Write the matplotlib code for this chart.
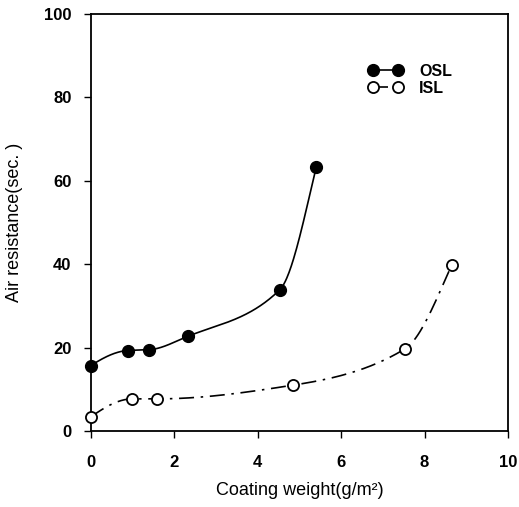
import numpy as np
import matplotlib
matplotlib.use('Agg')
import matplotlib.pyplot as plt
from matplotlib.lines import Line2D

plt.rcParams['font.family'] = ['Liberation Sans', 'DejaVu Sans']

# coating weight (g/m2) vs air resistance (sec.)
osl_x = [0.0, 0.88, 1.40, 2.32, 4.53, 5.40]
osl_y = [15.7, 19.3, 19.5, 22.7, 33.9, 63.2]
isl_x = [0.0, 0.99, 1.59, 4.85, 7.53, 8.65]
isl_y = [3.4, 7.7, 7.7, 11.0, 19.7, 39.8]

x_ticks = [0, 2, 4, 6, 8, 10]
y_ticks = [0, 20, 40, 60, 80, 100]


def pchip(x, y, n=300):
    """Monotone cubic curve through the points, for the smooth line."""
    x = np.asarray(x, float)
    y = np.asarray(y, float)
    h = np.diff(x)
    d = np.diff(y) / h
    m = np.zeros_like(y)
    for k in range(1, len(x) - 1):
        if d[k - 1] * d[k] > 0:
            w1 = 2 * h[k] + h[k - 1]
            w2 = h[k] + 2 * h[k - 1]
            m[k] = (w1 + w2) / (w1 / d[k - 1] + w2 / d[k])
    m[0] = max(((2 * h[0] + h[1]) * d[0] - h[0] * d[1]) / (h[0] + h[1]), 0)
    m[-1] = max(((2 * h[-1] + h[-2]) * d[-1] - h[-1] * d[-2]) / (h[-1] + h[-2]), 0)
    xs = np.linspace(x[0], x[-1], n)
    idx = np.clip(np.searchsorted(x, xs) - 1, 0, len(x) - 2)
    t = (xs - x[idx]) / h[idx]
    h00 = 2 * t**3 - 3 * t**2 + 1
    h10 = t**3 - 2 * t**2 + t
    h01 = -2 * t**3 + 3 * t**2
    h11 = t**3 - t**2
    ys = h00 * y[idx] + h10 * h[idx] * m[idx] + h01 * y[idx + 1] + h11 * h[idx] * m[idx + 1]
    return xs, ys


fig = plt.figure(figsize=(5.19, 5.07), dpi=100)
ax = fig.add_axes([0.1753, 0.1499, 0.8035, 0.8225])

dashdot = (0, (9, 4, 1.5, 4))

xs, ys = pchip(osl_x, osl_y)
ax.plot(xs, ys, color='black', lw=1.2, zorder=2)
ax.plot(osl_x, osl_y, 'o', color='black', ms=8.5, zorder=3, clip_on=False)

xs, ys = pchip(isl_x, isl_y)
ax.plot(xs, ys, color='black', lw=1.2, linestyle=dashdot, zorder=2)
ax.plot(isl_x, isl_y, 'o', mfc='white', mec='black', mew=1.3, ms=8,
        zorder=3, clip_on=False)

ax.set_xlim(0, 10)
ax.set_ylim(0, 100)
ax.set_xticks(x_ticks)
ax.set_yticks(y_ticks)
ax.tick_params(direction='out', length=5, width=1, labelsize=12)
ax.tick_params(axis='x', pad=12)
ax.tick_params(axis='y', pad=9)
for lab in ax.get_xticklabels() + ax.get_yticklabels():
    lab.set_fontweight('bold')
for sp in ax.spines.values():
    sp.set_linewidth(1.3)

ax.set_xlabel('Coating weight(g/m²)', fontsize=13)
ax.set_ylabel('Air resistance(sec. )', fontsize=13)
ax.xaxis.set_label_coords(0.5, -0.122)
ax.yaxis.set_label_coords(-0.163, 0.5)

handles = [
    Line2D([], [], color='black', lw=1.2, marker='o', ms=8.5),
    Line2D([], [], color='black', lw=1.2, linestyle=dashdot, marker='o',
           mfc='white', mec='black', mew=1.3, ms=8),
]
leg = ax.legend(handles, ['OSL', 'ISL'], loc='upper left',
                bbox_to_anchor=(0.645, 0.900), frameon=False, numpoints=2,
                borderpad=0, handlelength=2.2, handletextpad=1.0,
                labelspacing=0.15, prop={'weight': 'bold', 'size': 11.5})

fig.savefig('out.png', dpi=100)
